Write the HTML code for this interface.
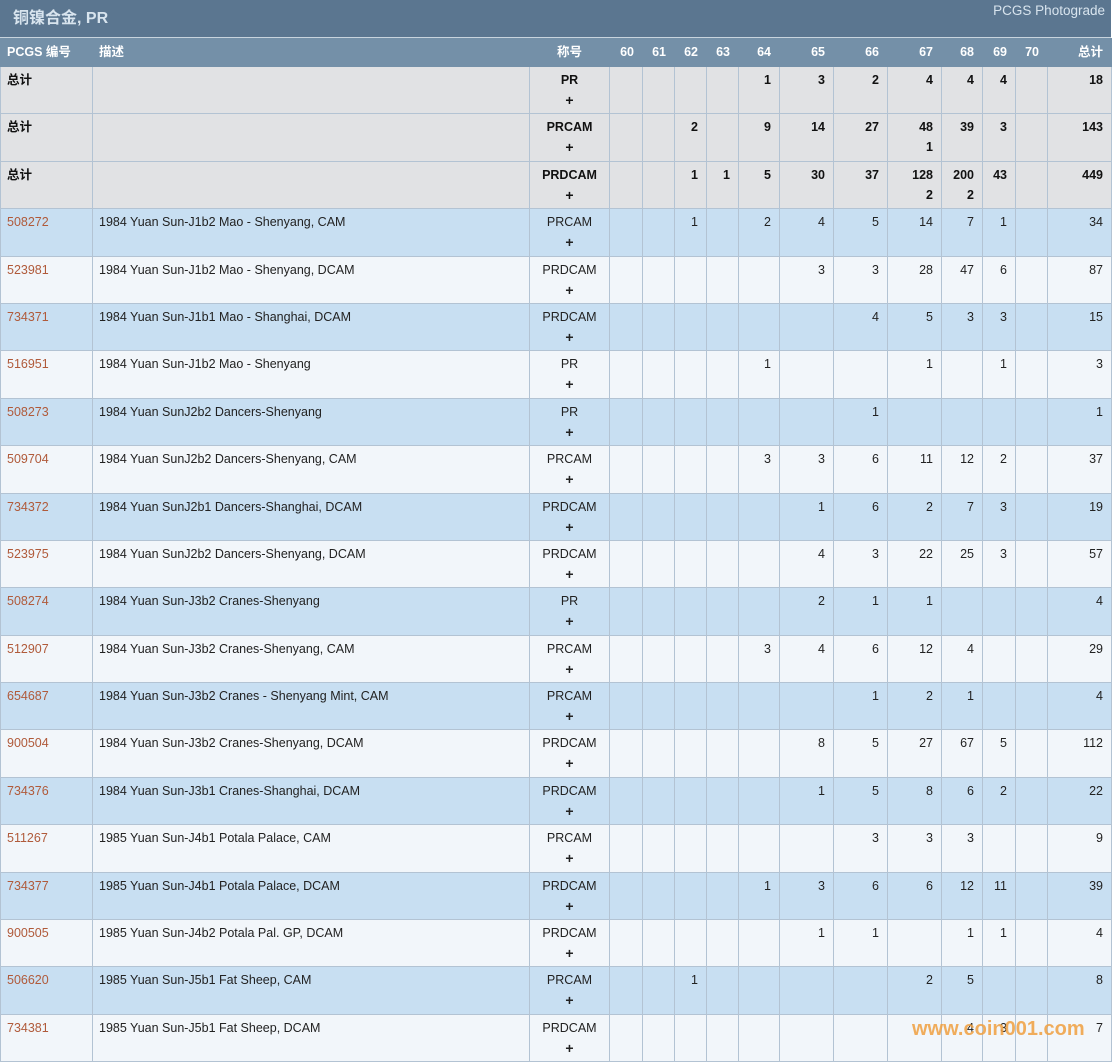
<!DOCTYPE html>
<html><head><meta charset="utf-8"><style>
body{margin:0;width:1112px;height:1058px;overflow:hidden;background:#fff;font-family:"Liberation Sans","Noto Sans CJK SC",sans-serif;font-size:12.5px;color:#222;position:relative}
.top{position:absolute;left:0;top:0;width:1111px;height:37px;background:#5b7690;border-bottom:1px solid #c8d4de}
.top .t{position:absolute;left:13px;top:4px;color:#d8e4ee;font-size:16px;font-weight:bold}
.top .r{position:absolute;right:6px;top:3px;color:#d8e4ee;font-size:13.5px}
table{position:absolute;left:0;top:38px;border-collapse:collapse;table-layout:fixed;width:1111px}
td,th{border:1px solid #b3c3d3;padding:3px 8px 0 6px;vertical-align:top;line-height:20px;height:43.4px;text-align:right;white-space:nowrap;overflow:hidden;box-sizing:content-box}
th{background:#7490a8;color:#fff;height:24px;padding:3px 8px 0 6px;border-color:#7490a8;font-size:12.5px}
td.l,th.l{text-align:left}
td.c,th.c{text-align:center;padding-left:0;padding-right:0}
td.c b{font-size:14px}
tr.s td{background:#e1e2e4;font-weight:bold;color:#111}
tr.a td{background:#c8dff2}
tr.b td{background:#f2f6fa}
td.n{color:#b05a3a}
.wm{position:absolute;left:912px;top:1018px;color:#f0a040;font-size:20px;font-weight:bold;opacity:.85}
</style></head><body>
<div class="top"><span class="t">铜镍合金, PR</span><span class="r">PCGS Photograde</span></div>
<table>
<colgroup><col style="width:92px"><col style="width:437px"><col style="width:80px"><col style="width:33px"><col style="width:32px"><col style="width:32px"><col style="width:32px"><col style="width:41px"><col style="width:54px"><col style="width:54px"><col style="width:54px"><col style="width:41px"><col style="width:33px"><col style="width:32px"><col style="width:64px"></colgroup>
<tr><th class="l">PCGS 编号</th><th class="l">描述</th><th class="c">称号</th><th>60</th><th>61</th><th>62</th><th>63</th><th>64</th><th>65</th><th>66</th><th>67</th><th>68</th><th>69</th><th>70</th><th>总计</th></tr>
<tr class="s"><td class="l">总计</td><td></td><td class="c">PR<br><b>+</b></td><td></td><td></td><td></td><td></td><td>1</td><td>3</td><td>2</td><td>4</td><td>4</td><td>4</td><td></td><td>18</td></tr>
<tr class="s"><td class="l">总计</td><td></td><td class="c">PRCAM<br><b>+</b></td><td></td><td></td><td>2</td><td></td><td>9</td><td>14</td><td>27</td><td>48<br>1</td><td>39</td><td>3</td><td></td><td>143</td></tr>
<tr class="s"><td class="l">总计</td><td></td><td class="c">PRDCAM<br><b>+</b></td><td></td><td></td><td>1</td><td>1</td><td>5</td><td>30</td><td>37</td><td>128<br>2</td><td>200<br>2</td><td>43</td><td></td><td>449</td></tr>
<tr class="a"><td class="l n">508272</td><td class="l">1984 Yuan Sun-J1b2 Mao - Shenyang, CAM</td><td class="c">PRCAM<br><b>+</b></td><td></td><td></td><td>1</td><td></td><td>2</td><td>4</td><td>5</td><td>14</td><td>7</td><td>1</td><td></td><td>34</td></tr>
<tr class="b"><td class="l n">523981</td><td class="l">1984 Yuan Sun-J1b2 Mao - Shenyang, DCAM</td><td class="c">PRDCAM<br><b>+</b></td><td></td><td></td><td></td><td></td><td></td><td>3</td><td>3</td><td>28</td><td>47</td><td>6</td><td></td><td>87</td></tr>
<tr class="a"><td class="l n">734371</td><td class="l">1984 Yuan Sun-J1b1 Mao - Shanghai, DCAM</td><td class="c">PRDCAM<br><b>+</b></td><td></td><td></td><td></td><td></td><td></td><td></td><td>4</td><td>5</td><td>3</td><td>3</td><td></td><td>15</td></tr>
<tr class="b"><td class="l n">516951</td><td class="l">1984 Yuan Sun-J1b2 Mao - Shenyang</td><td class="c">PR<br><b>+</b></td><td></td><td></td><td></td><td></td><td>1</td><td></td><td></td><td>1</td><td></td><td>1</td><td></td><td>3</td></tr>
<tr class="a"><td class="l n">508273</td><td class="l">1984 Yuan SunJ2b2 Dancers-Shenyang</td><td class="c">PR<br><b>+</b></td><td></td><td></td><td></td><td></td><td></td><td></td><td>1</td><td></td><td></td><td></td><td></td><td>1</td></tr>
<tr class="b"><td class="l n">509704</td><td class="l">1984 Yuan SunJ2b2 Dancers-Shenyang, CAM</td><td class="c">PRCAM<br><b>+</b></td><td></td><td></td><td></td><td></td><td>3</td><td>3</td><td>6</td><td>11</td><td>12</td><td>2</td><td></td><td>37</td></tr>
<tr class="a"><td class="l n">734372</td><td class="l">1984 Yuan SunJ2b1 Dancers-Shanghai, DCAM</td><td class="c">PRDCAM<br><b>+</b></td><td></td><td></td><td></td><td></td><td></td><td>1</td><td>6</td><td>2</td><td>7</td><td>3</td><td></td><td>19</td></tr>
<tr class="b"><td class="l n">523975</td><td class="l">1984 Yuan SunJ2b2 Dancers-Shenyang, DCAM</td><td class="c">PRDCAM<br><b>+</b></td><td></td><td></td><td></td><td></td><td></td><td>4</td><td>3</td><td>22</td><td>25</td><td>3</td><td></td><td>57</td></tr>
<tr class="a"><td class="l n">508274</td><td class="l">1984 Yuan Sun-J3b2 Cranes-Shenyang</td><td class="c">PR<br><b>+</b></td><td></td><td></td><td></td><td></td><td></td><td>2</td><td>1</td><td>1</td><td></td><td></td><td></td><td>4</td></tr>
<tr class="b"><td class="l n">512907</td><td class="l">1984 Yuan Sun-J3b2 Cranes-Shenyang, CAM</td><td class="c">PRCAM<br><b>+</b></td><td></td><td></td><td></td><td></td><td>3</td><td>4</td><td>6</td><td>12</td><td>4</td><td></td><td></td><td>29</td></tr>
<tr class="a"><td class="l n">654687</td><td class="l">1984 Yuan Sun-J3b2 Cranes - Shenyang Mint, CAM</td><td class="c">PRCAM<br><b>+</b></td><td></td><td></td><td></td><td></td><td></td><td></td><td>1</td><td>2</td><td>1</td><td></td><td></td><td>4</td></tr>
<tr class="b"><td class="l n">900504</td><td class="l">1984 Yuan Sun-J3b2 Cranes-Shenyang, DCAM</td><td class="c">PRDCAM<br><b>+</b></td><td></td><td></td><td></td><td></td><td></td><td>8</td><td>5</td><td>27</td><td>67</td><td>5</td><td></td><td>112</td></tr>
<tr class="a"><td class="l n">734376</td><td class="l">1984 Yuan Sun-J3b1 Cranes-Shanghai, DCAM</td><td class="c">PRDCAM<br><b>+</b></td><td></td><td></td><td></td><td></td><td></td><td>1</td><td>5</td><td>8</td><td>6</td><td>2</td><td></td><td>22</td></tr>
<tr class="b"><td class="l n">511267</td><td class="l">1985 Yuan Sun-J4b1 Potala Palace, CAM</td><td class="c">PRCAM<br><b>+</b></td><td></td><td></td><td></td><td></td><td></td><td></td><td>3</td><td>3</td><td>3</td><td></td><td></td><td>9</td></tr>
<tr class="a"><td class="l n">734377</td><td class="l">1985 Yuan Sun-J4b1 Potala Palace, DCAM</td><td class="c">PRDCAM<br><b>+</b></td><td></td><td></td><td></td><td></td><td>1</td><td>3</td><td>6</td><td>6</td><td>12</td><td>11</td><td></td><td>39</td></tr>
<tr class="b"><td class="l n">900505</td><td class="l">1985 Yuan Sun-J4b2 Potala Pal. GP, DCAM</td><td class="c">PRDCAM<br><b>+</b></td><td></td><td></td><td></td><td></td><td></td><td>1</td><td>1</td><td></td><td>1</td><td>1</td><td></td><td>4</td></tr>
<tr class="a"><td class="l n">506620</td><td class="l">1985 Yuan Sun-J5b1 Fat Sheep, CAM</td><td class="c">PRCAM<br><b>+</b></td><td></td><td></td><td>1</td><td></td><td></td><td></td><td></td><td>2</td><td>5</td><td></td><td></td><td>8</td></tr>
<tr class="b"><td class="l n">734381</td><td class="l">1985 Yuan Sun-J5b1 Fat Sheep, DCAM</td><td class="c">PRDCAM<br><b>+</b></td><td></td><td></td><td></td><td></td><td></td><td></td><td></td><td></td><td>4</td><td>3</td><td></td><td>7</td></tr>
</table>
<div class="wm">www.coin001.com</div>
</body></html>
